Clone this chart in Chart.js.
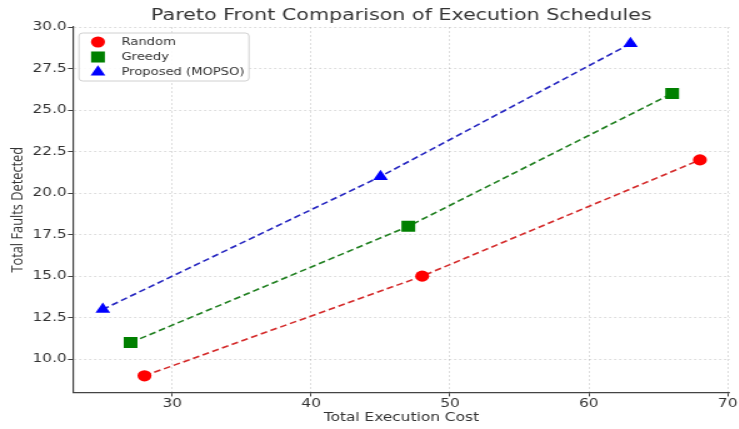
<!DOCTYPE html>
<html>
<head>
<meta charset="utf-8">
<script src="https://cdn.jsdelivr.net/npm/chart.js@4"></script>
<style>
  html, body { margin: 0; padding: 0; background: #fff; overflow: hidden; }
  /* the reference is stretched sideways, so draw narrow and scale it out */
  #wrap { width: 591px; height: 429px; transform: scaleX(1.25); transform-origin: 0 0; }
</style>
</head>
<body>
<div id="wrap"><canvas id="myChart" width="591" height="429"></canvas></div>
<script>
const seriesNames = ["Random", "Greedy", "Proposed (MOPSO)"];

const randomCost = [28, 48, 68];
const randomFaults = [9, 15, 22];
const greedyCost = [27, 47, 66];
const greedyFaults = [11, 18, 26];
const proposedCost = [25, 45, 63];
const proposedFaults = [13, 21, 29];

const xTicks = [30, 40, 50, 60, 70];
const yTicks = [10, 12.5, 15, 17.5, 20, 22.5, 25, 27.5, 30];

const font = "DejaVu Sans";
const textColor = "#333";

function toPoints(xs, ys) {
  return xs.map((x, i) => ({ x: x, y: ys[i] }));
}

function series(label, xs, ys, marker, lineColor, style, radius) {
  return {
    label: label,
    data: toPoints(xs, ys),
    showLine: true,
    borderColor: lineColor,
    borderWidth: 1.6,
    borderDash: [5.5, 3],
    pointStyle: style,
    pointRadius: radius,
    pointHoverRadius: radius,
    pointBackgroundColor: marker,
    pointBorderColor: marker,
    pointBorderWidth: 0,
    fill: false,
  };
}

// legend box drawn inside the plot, top left
const legendBox = {
  id: "legendBox",
  afterDraw(chart) {
    const ctx = chart.ctx;
    const x0 = chart.chartArea.left + 4.8;
    const y0 = chart.chartArea.top + 6;
    const w = 136, h = 48;
    ctx.save();
    ctx.beginPath();
    ctx.roundRect(x0, y0, w, h, 3);
    ctx.fillStyle = "rgba(255,255,255,0.85)";
    ctx.fill();
    ctx.strokeStyle = "#d0d0d0";
    ctx.lineWidth = 1;
    ctx.stroke();
    ctx.font = "10.5px '" + font + "'";
    ctx.textBaseline = "middle";
    chart.data.datasets.forEach((ds, i) => {
      const y = y0 + 9 + i * 15;
      ctx.fillStyle = ds.pointBackgroundColor;
      Chart.helpers.drawPoint(ctx, {
        pointStyle: ds.pointStyle,
        radius: ds.pointRadius,
        rotation: 0,
        borderWidth: 0,
      }, x0 + 15.2, y);
      ctx.fillStyle = textColor;
      ctx.fillText(ds.label, x0 + 34, y);
    });
    ctx.restore();
  },
};

const ctx = document.getElementById("myChart").getContext("2d");
const myChart = new Chart(ctx, {
  type: "scatter",
  data: {
    datasets: [
      series(seriesNames[0], randomCost, randomFaults, "#ff0000", "#d42a2a", "circle", 5.6),
      series(seriesNames[1], greedyCost, greedyFaults, "#008000", "#1f7f1f", "rect", 7.8),
      series(seriesNames[2], proposedCost, proposedFaults, "#0000ff", "#2626c0", "triangle", 6.8),
    ],
  },
  options: {
    responsive: false,
    animation: false,
    devicePixelRatio: 1,
    layout: {
      autoPadding: false, // the "70" label is cut at the edge in the reference
      padding: { left: 0, right: 5.4, top: 0, bottom: 0 },
    },
    plugins: {
      legend: { display: false },
      tooltip: { enabled: false },
      title: {
        display: true,
        fullSize: false,
        text: "Pareto Front Comparison of Execution Schedules",
        color: textColor,
        font: { family: font, size: 16.5, weight: "normal", lineHeight: 1.2 },
        padding: { top: 5.6, bottom: 1.6 },
      },
    },
    scales: {
      x: {
        type: "linear",
        min: 22.85,
        max: 70.15,
        afterBuildTicks: (scale) => {
          scale.ticks = xTicks.map((v) => ({ value: v }));
        },
        border: { display: true, color: "#444", width: 1.2, dash: [2, 2] },
        grid: {
          color: "rgba(0,0,0,0.17)",
          lineWidth: 0.8,
          tickColor: "#444",
          tickLength: 4,
          tickWidth: 1,
        },
        ticks: {
          color: textColor,
          padding: 1,
          maxRotation: 0,
          font: { family: font, size: 12.3, lineHeight: 1 },
          callback: (v) => v,
        },
        title: {
          display: true,
          text: "Total Execution Cost",
          color: textColor,
          font: { family: font, size: 12.3, lineHeight: 1.2 },
          padding: { top: 0, bottom: 3.5 },
        },
      },
      y: {
        type: "linear",
        min: 8,
        max: 30,
        afterBuildTicks: (scale) => {
          scale.ticks = yTicks.map((v) => ({ value: v }));
        },
        border: { display: true, color: "#444", width: 1.2, dash: [2, 2] },
        grid: {
          color: "rgba(0,0,0,0.17)",
          lineWidth: 0.8,
          tickColor: "#444",
          tickLength: 4,
          tickWidth: 1,
        },
        ticks: {
          color: textColor,
          padding: 1,
          font: { family: font, size: 12.3 },
          callback: (v) => v.toFixed(1),
        },
        title: {
          display: true,
          text: "Total Faults Detected",
          color: textColor,
          font: { family: "Open Sans", size: 12.8, lineHeight: 1 },
          padding: { top: 8, bottom: 4.2 },
        },
      },
    },
  },
  plugins: [legendBox],
});
</script>
</body>
</html>
